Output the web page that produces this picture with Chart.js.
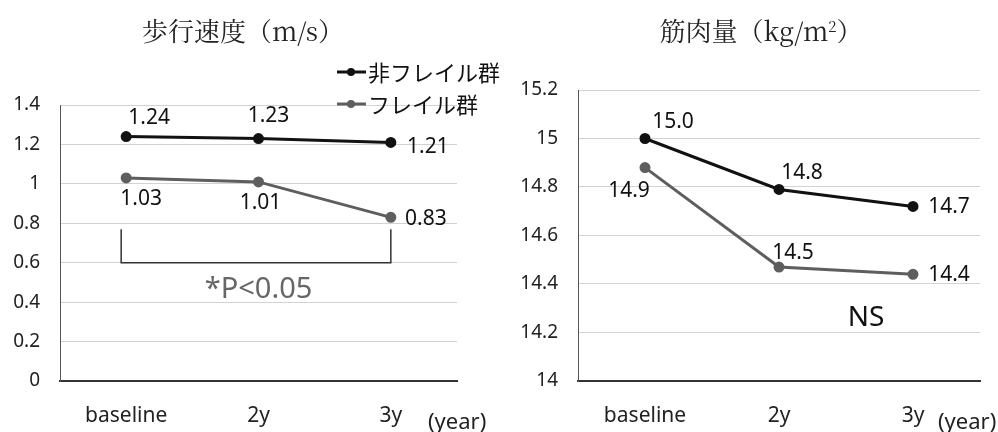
<!DOCTYPE html>
<html>
<head>
<meta charset="utf-8">
<script src="https://cdn.jsdelivr.net/npm/chart.js@4/dist/chart.umd.min.js"></script>
<style>
  html, body { margin: 0; padding: 0; background: #fff; }
  #wrap { position: relative; width: 998px; height: 432px; overflow: hidden; }
  canvas { position: absolute; top: 0; }
  .title {
    position: absolute; top: 12px; white-space: nowrap;
    font-family: "Noto Serif CJK JP", "Noto Sans CJK JP", serif;
    font-size: 26px; line-height: 36px; color: #222; transform: translateX(-50%);
  }
  .title sup { font-size: 15px; vertical-align: 9px; line-height: 0; }
</style>
</head>
<body>
<div id="wrap">
  <canvas id="walkChart" width="520" height="432" style="left:0"></canvas>
  <canvas id="muscleChart" width="498" height="432" style="left:500px"></canvas>
  <div class="title" style="left:243px">歩行速度（m/s）</div>
  <div class="title" style="left:761px">筋肉量（kg/m<sup>2</sup>）</div>
</div>
<script>
// データ
const categories = ['baseline', '2y', '3y'];
const seriesNames = ['非フレイル群', 'フレイル群'];

const walkNonFrail = [1.24, 1.23, 1.21];
const walkFrail = [1.03, 1.01, 0.83];
const walkMin = 0, walkMax = 1.4, walkStep = 0.2;

const muscleNonFrail = [15.0, 14.79, 14.72];
const muscleFrail = [14.88, 14.47, 14.44];
const muscleMin = 14, muscleMax = 15.2, muscleStep = 0.2;

// 見た目
const colors = ['#111111', '#5e5e5e'];
const latinFont = '"Noto Sans", "Open Sans", sans-serif';
const cjkFont = '"Noto Sans CJK JP", sans-serif';

// ラベルの位置ずれ (dx, dy)
const walkOffsets = [
  [[23, -19], [10, -22], [37, 5]],
  [[15, 21], [2, 21], [35, 2]]
];
const muscleOffsets = [
  [[28, -16], [23, -16], [36, 1]],
  [[-16, 23], [14, -14], [36, 1]]
];

function makeDatasets(a, b) {
  return [a, b].map((d, i) => ({
    label: seriesNames[i],
    data: d,
    borderColor: colors[i],
    backgroundColor: colors[i],
    pointBackgroundColor: colors[i],
    pointBorderColor: colors[i],
    pointRadius: 4,
    borderWidth: 3,
    tension: 0
  }));
}

function valueLabels(offsets, digits) {
  return {
    id: 'valueLabels',
    afterDatasetsDraw(chart) {
      const ctx = chart.ctx;
      ctx.save();
      ctx.font = '21px ' + latinFont;
      ctx.fillStyle = '#111';
      ctx.textAlign = 'center';
      ctx.textBaseline = 'middle';
      chart.data.datasets.forEach((ds, i) => {
        chart.getDatasetMeta(i).data.forEach((pt, j) => {
          const o = offsets[i][j];
          ctx.fillText(ds.data[j].toFixed(digits), pt.x + o[0], pt.y + o[1]);
        });
      });
      ctx.restore();
    }
  };
}

function yearLabel(x) {
  return {
    id: 'yearLabel',
    afterDraw(chart) {
      const ctx = chart.ctx;
      ctx.save();
      ctx.font = '22px ' + latinFont;
      ctx.fillStyle = '#222';
      ctx.textAlign = 'left';
      ctx.textBaseline = 'middle';
      ctx.fillText('(year)', x, 423);
      ctx.restore();
    }
  };
}

const walkExtras = {
  id: 'walkExtras',
  afterDraw(chart) {
    const ctx = chart.ctx;
    const xs = chart.scales.x, ys = chart.scales.y;
    ctx.save();
    // 有意差の括弧
    const x1 = xs.getPixelForValue(0) - 5, x2 = xs.getPixelForValue(2);
    const yTop = ys.getPixelForValue(0.77), yBot = ys.getPixelForValue(0.6);
    ctx.strokeStyle = '#333';
    ctx.lineWidth = 1.5;
    ctx.beginPath();
    ctx.moveTo(x1, yTop); ctx.lineTo(x1, yBot); ctx.lineTo(x2, yBot); ctx.lineTo(x2, yTop);
    ctx.stroke();
    ctx.font = '29px ' + latinFont;
    ctx.fillStyle = '#666';
    ctx.textAlign = 'center';
    ctx.textBaseline = 'middle';
    ctx.fillText('*P<0.05', xs.getPixelForValue(1), ys.getPixelForValue(0.465));

    // 凡例
    chart.data.datasets.forEach((ds, i) => {
      const y = 72 + i * 32;
      ctx.strokeStyle = colors[i];
      ctx.lineWidth = 3;
      ctx.beginPath(); ctx.moveTo(337, y); ctx.lineTo(366, y); ctx.stroke();
      ctx.fillStyle = colors[i];
      ctx.beginPath(); ctx.arc(351, y, 4, 0, Math.PI * 2); ctx.fill();
      ctx.font = '22px ' + cjkFont;
      ctx.fillStyle = '#111';
      ctx.textAlign = 'left';
      ctx.fillText(ds.label, 368, y + 1);
    });
    ctx.restore();
  }
};

const muscleExtras = {
  id: 'muscleExtras',
  afterDraw(chart) {
    const ctx = chart.ctx;
    ctx.save();
    ctx.font = '28px ' + latinFont;
    ctx.fillStyle = '#111';
    ctx.textAlign = 'center';
    ctx.textBaseline = 'middle';
    ctx.fillText('NS', chart.scales.x.getPixelForValue(1.65), chart.scales.y.getPixelForValue(14.26));
    ctx.restore();
  }
};

function makeOptions(min, max, step, yWidth, pad) {
  return {
    responsive: false,
    animation: false,
    devicePixelRatio: 1,
    layout: { padding: pad },
    plugins: { legend: { display: false }, tooltip: { enabled: false } },
    scales: {
      x: {
        offset: true,
        grid: { display: false, drawTicks: false },
        border: { display: true, color: '#333', width: 2 },
        ticks: { padding: 22, color: '#222', font: { size: 21, family: latinFont } },
        afterFit: s => { s.height = 51; }
      },
      y: {
        min: min, max: max,
        grid: { color: '#d2d2d2', lineWidth: 1, drawTicks: false },
        border: { display: true, color: '#555', width: 1 },
        ticks: {
          stepSize: step, padding: 20, color: '#222', font: { size: 19, family: latinFont },
          callback: v => String(parseFloat(v.toFixed(1)))
        },
        afterFit: s => { s.width = yWidth; }
      }
    }
  };
}

new Chart(document.getElementById('walkChart'), {
  type: 'line',
  data: { labels: categories, datasets: makeDatasets(walkNonFrail, walkFrail) },
  options: makeOptions(walkMin, walkMax, walkStep, 60, { top: 105, right: 63, left: 0, bottom: 0 }),
  plugins: [valueLabels(walkOffsets, 2), walkExtras, yearLabel(428)]
});

new Chart(document.getElementById('muscleChart'), {
  type: 'line',
  data: { labels: categories, datasets: makeDatasets(muscleNonFrail, muscleFrail) },
  options: makeOptions(muscleMin, muscleMax, muscleStep, 78, { top: 90, right: 18, left: 0, bottom: 0 }),
  plugins: [valueLabels(muscleOffsets, 1), muscleExtras, yearLabel(438)]
});
</script>
</body>
</html>
